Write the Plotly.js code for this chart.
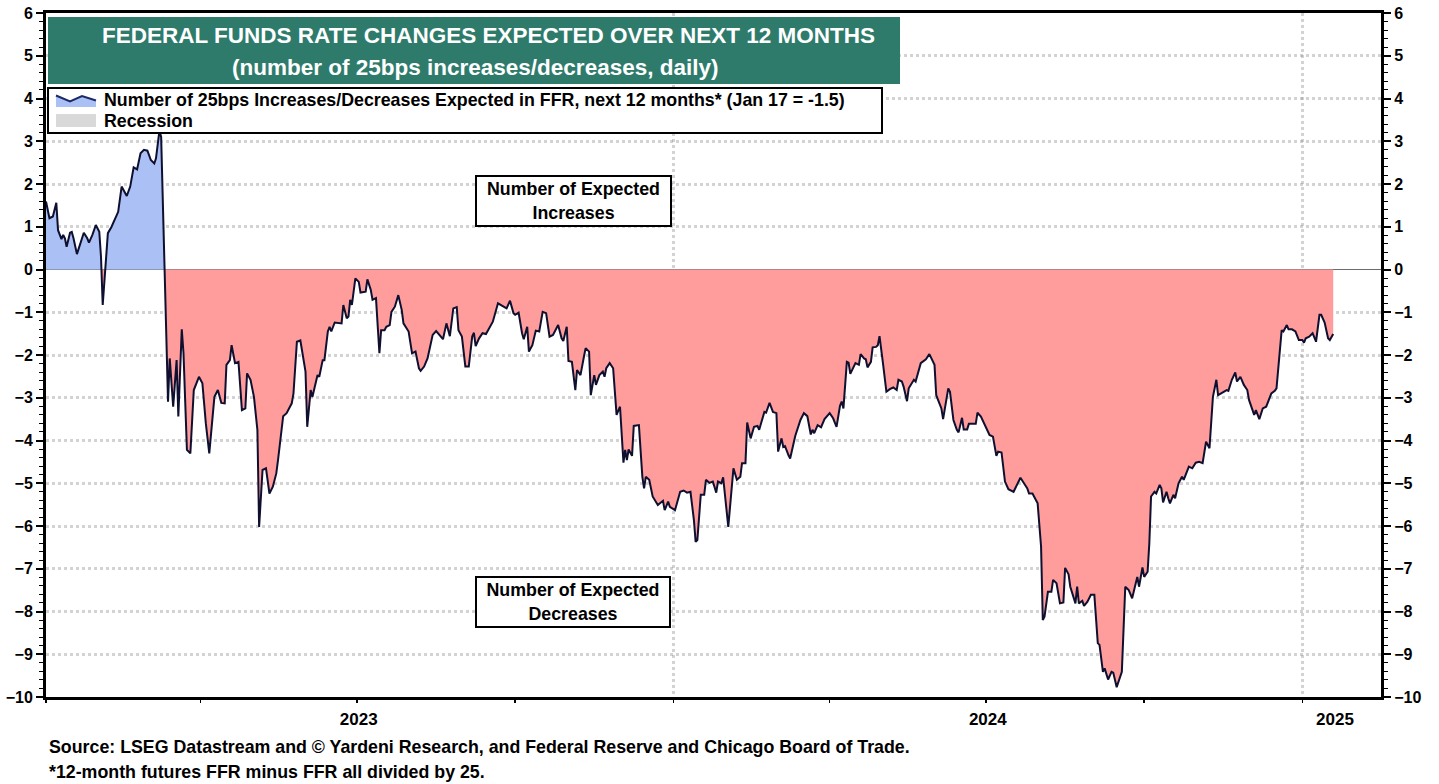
<!DOCTYPE html>
<html>
<head>
<meta charset="utf-8">
<script src="https://cdn.plot.ly/plotly-3.0.1.min.js"></script>
<style>
  html, body { margin: 0; padding: 0; background: #ffffff; }
  #chart { width: 1439px; height: 784px; }
</style>
</head>
<body>
<div id="chart"></div>
<script>
// ---- DATA ----
// day offset from 2023-01-01
const days = [0,2,4,6,7,9,10,11,12,14,15,16,18,20,22,24,25,27,29,31,32,33,36,38,40,42,44,47,49,51,53,55,57,59,61,63,64,66,67,
71,72,74,76,77,79,80,82,84,86,89,91,93,95,98,100,102,104,105,107,108,110,112,114,116,117,119,121,123,124,126,128,130,132,134,135,
138,140,143,144,146,148,150,151,152,154,155,158,159,161,162,164,165,166,168,172,173,175,176,177,178,180,182,183,186,187,189,190,192,
194,195,197,198,200,201,203,205,207,208,211,213,215,217,218,220,221,222,225,227,231,233,235,237,239,240,242,244,246,248,249,250,252,
254,256,260,263,266,268,270,272,273,275,277,278,280,281,283,285,287,289,291,293,295,298,300,301,303,304,306,308,309,311,313,314,316,
317,319,320,322,324,325,326,328,330,332,334,336,337,338,339,341,342,345,347,348,349,351,353,356,359,360,362,363,366,369,371,373,375,
377,378,379,381,383,384,386,388,390,391,393,394,397,400,402,404,405,407,408,410,412,414,415,418,419,421,423,425,426,428,429,430,432,
433,436,439,441,443,445,446,447,449,451,453,456,458,460,462,463,464,466,467,468,471,473,474,476,477,478,480,481,483,484,485,487,489,
491,493,495,496,498,499,501,502,505,506,509,511,512,514,517,518,521,522,525,526,528,530,531,533,534,536,537,541,542,544,546,549,551,
553,554,556,558,560,563,565,567,570,571,572,574,577,579,580,581,583,585,586,588,590,592,593,595,596,598,599,600,601,603,604,606,608,
610,612,613,615,616,618,620,621,623,626,628,630,632,635,636,638,639,641,642,643,645,646,648,649,650,652,653,654,656,657,659,661,662,
664,665,667,669,671,673,675,677,679,681,682,685,687,688,690,692,693,695,697,699,700,703,704,706,708,710,713,715,716,719,720,722,723,
725,727,729,731,732,733,735,737,738,739,741,742,744,746,747,749];
// number of 25bps increases (+) / decreases (-) expected over next 12 months
const values = [1.59,1.2,1.24,1.56,0.92,0.71,0.81,0.73,0.53,0.86,0.88,0.73,0.36,0.61,0.86,0.73,0.63,0.81,1.04,0.88,0.3,-0.83,0.85,0.99,1.16,1.35,1.94,1.72,1.94,2.39,2.34,2.72,2.8,2.78,2.56,2.48,2.6,3.25,3.1,
-3.09,-2.08,-3.21,-2.12,-3.44,-1.4,-1.96,-4.22,-4.3,-2.82,-2.51,-2.66,-3.6,-4.3,-2.98,-2.82,-3.12,-3.13,-2.23,-2.12,-1.77,-2.19,-2.16,-3.29,-3.25,-2.43,-2.58,-2.98,-3.75,-6.02,-4.69,-4.65,-5.24,-5.08,-4.77,-4.46,
-3.43,-3.36,-3.13,-2.9,-1.69,-1.66,-2.16,-2.39,-3.68,-2.82,-2.98,-2.47,-2.51,-2.12,-2.12,-1.45,-1.34,-1.45,-1.24,-1.26,-0.83,-1.14,-1.1,-0.71,-0.83,-0.21,-0.29,-0.54,-0.52,-0.23,-0.48,-0.71,-0.67,
-1.96,-1.42,-1.42,-1.34,-1.3,-0.99,-0.87,-0.6,-0.95,-1.26,-1.45,-1.96,-1.92,-2.31,-2.37,-2.27,-2.16,-2.08,-1.53,-1.44,-1.63,-1.26,-1.56,-0.91,-0.88,-1.42,-1.57,-2.27,-2.27,-1.57,-1.48,-1.79,-1.61,
-1.49,-1.51,-1.22,-0.79,-0.87,-0.91,-0.73,-1.02,-1.06,-1.01,-1.49,-1.63,-1.34,-1.92,-1.77,-1.43,-1.45,-0.99,-1.02,-1.57,-1.53,-1.3,-1.61,-1.67,-1.34,-2.14,-2.16,-2.82,-2.35,-2.47,-2.04,-1.84,-1.92,
-2.94,-2.47,-2.7,-2.47,-2.39,-2.51,-2.31,-2.19,-2.31,-3.4,-3.21,-4.52,-4.22,-4.46,-4.21,-4.36,-3.66,-3.64,-4.85,-5.12,-4.85,-4.92,-5.31,-5.51,-5.41,-5.63,-5.43,-5.55,-5.63,-5.2,-5.17,-5.22,-5.2,
-5.86,-6.37,-6.33,-5.27,-5.27,-4.92,-4.99,-4.96,-5.22,-4.96,-5.0,-4.86,-6.02,-4.65,-4.92,-4.85,-4.53,-4.53,-3.58,-3.95,-3.68,-3.66,-3.75,-3.33,-3.35,-3.12,-3.33,-3.36,-4.26,-3.95,-4.15,-4.13,-4.34,
-4.42,-3.89,-3.52,-3.36,-3.43,-3.86,-3.75,-3.83,-3.64,-3.69,-3.5,-3.36,-3.48,-3.68,-3.19,-3.09,-3.25,-2.16,-2.18,-2.44,-2.19,-2.23,-1.98,-2.08,-2.1,-2.29,-2.16,-1.82,-1.81,-1.77,-1.56,-2.19,-2.86,
-2.8,-2.76,-2.82,-2.58,-2.62,-2.74,-3.08,-2.78,-2.58,-2.62,-2.19,-2.13,-2.1,-1.98,-2.23,-2.94,-3.25,-3.5,-2.78,-2.86,-3.52,-3.75,-3.81,-3.47,-3.74,-3.74,-3.61,-3.61,-3.35,-3.44,-3.6,-3.87,-3.91,
-4.36,-4.26,-4.28,-4.96,-5.14,-5.2,-5.04,-4.87,-5.06,-5.12,-5.24,-5.24,-5.47,-6.48,-8.2,-8.12,-7.54,-7.54,-7.26,-7.34,-7.81,-7.79,-6.98,-7.13,-7.42,-7.65,-7.81,-7.42,-7.81,-7.75,-7.87,-7.77,-7.61,
-7.61,-8.74,-8.78,-9.41,-9.33,-9.59,-9.41,-9.43,-9.77,-9.41,-7.42,-7.5,-7.69,-7.19,-7.42,-6.97,-7.19,-7.07,-6.4,-5.31,-5.2,-5.24,-5.04,-5.12,-5.45,-5.2,-5.35,-5.47,-5.27,-5.35,-5.0,-4.85,-4.92,
-4.73,-4.61,-4.65,-4.52,-4.5,-4.53,-4.03,-4.18,-2.98,-2.58,-2.94,-2.86,-2.82,-2.84,-2.58,-2.41,-2.62,-2.51,-2.7,-2.82,-3.05,-3.4,-3.29,-3.5,-3.25,-3.21,-2.9,-2.84,-2.78,-1.42,-1.45,-1.3,-1.4,
-1.4,-1.45,-1.65,-1.65,-1.71,-1.61,-1.57,-1.49,-1.59,-1.69,-1.06,-1.06,-1.24,-1.61,-1.65,-1.51];

const yearTicks = ['2023-01-01','2024-01-01','2025-01-01'];
const quarterTicks = ['2023-04-01','2023-07-01','2023-10-01','2024-04-01','2024-07-01','2024-10-01'];
const yearLabelPos = ['2023-07-02','2024-07-02','2025-01-20'];
const yearLabels = ['2023','2024','2025'];
const seriesName = 'Number of 25bps Increases/Decreases Expected in FFR, next 12 months* (Jan 17 = -1.5)';
const recessionName = 'Recession';

// ---- build ----
const DAY = 86400000;
const T0 = Date.UTC(2023, 0, 1);
const toMs = d => T0 + d * DAY;
const xs = days.map(toMs);

// split into positive / negative areas (add zero crossings so fills meet at 0)
const fx = [], fp = [], fn = [];
for (let i = 0; i < days.length; i++) {
  const v = values[i];
  fx.push(xs[i]); fp.push(Math.max(v, 0)); fn.push(Math.min(v, 0));
  if (i < days.length - 1) {
    const v2 = values[i + 1];
    if ((v > 0 && v2 < 0) || (v < 0 && v2 > 0)) {
      const t = v / (v - v2);
      const xc = xs[i] + t * (xs[i + 1] - xs[i]);
      fx.push(xc); fp.push(0); fn.push(0);
    }
  }
}

const W = 1439, H = 784, ML = 46, MR = 58, MT = 13, MB = 87;
const PW = W - ML - MR, PH = H - MT - MB;
const PX = px => (px - ML) / PW;          // page px -> paper x
const PY = py => (H - MB - py) / PH;      // page px -> paper y

const xRange = [toMs(0), toMs(776.8)];
const FONT = 'Arial, "Liberation Sans", sans-serif';
const BLUE = '#abc1f6';
const RED = '#ff9c9c';
const LINE = '#0f1030';
const TXT = 17.8;

const traces = [
  { x: fx, y: fp, type: 'scatter', mode: 'lines', fill: 'tozeroy', fillcolor: BLUE,
    line: { width: 0, color: BLUE }, showlegend: false, hoverinfo: 'skip' },
  { x: fx, y: fn, type: 'scatter', mode: 'lines', fill: 'tozeroy', fillcolor: RED,
    line: { width: 0, color: RED }, showlegend: false, hoverinfo: 'skip' },
  { x: xs, y: values, type: 'scatter', mode: 'lines', line: { color: LINE, width: 2 },
    name: seriesName, showlegend: false },
  // helpers for secondary axes
  { x: [null], y: [null], xaxis: 'x2', yaxis: 'y', type: 'scatter', mode: 'lines', showlegend: false, hoverinfo: 'skip' },
  { x: [null], y: [null], xaxis: 'x', yaxis: 'y2', type: 'scatter', mode: 'lines', showlegend: false, hoverinfo: 'skip' }
];

const gridCol = 'rgba(128,128,128,0.35)';
const tickFont = { family: FONT, size: 16, color: '#000', weight: 'bold' };

const yBase = {
  range: [-10, 6], tickmode: 'linear', tick0: 0, dtick: 1,
  ticks: 'outside', ticklen: 7, tickwidth: 2, tickcolor: '#000',
  minor: { dtick: 0.2, tick0: 0, ticks: 'outside', ticklen: 4, tickwidth: 1, tickcolor: '#000', showgrid: false },
  showline: true, linecolor: '#000', linewidth: 3,
  tickfont: tickFont, fixedrange: true
};

// legend drawn as a framed box (icons + labels)
const legendShapes = [
  { type: 'rect', xref: 'paper', yref: 'paper', x0: PX(48), x1: PX(882), y0: PY(133), y1: PY(88),
    fillcolor: '#ffffff', line: { color: '#000', width: 2 }, layer: 'above' },
  { type: 'path', xref: 'paper', yref: 'paper', layer: 'above',
    path: `M${PX(56)},${PY(95.5)} L${PX(70)},${PY(101.5)} L${PX(82)},${PY(96)} L${PX(96)},${PY(100.5)} L${PX(96)},${PY(107)} L${PX(56)},${PY(107)} Z`,
    fillcolor: BLUE, line: { width: 0 } },
  { type: 'path', xref: 'paper', yref: 'paper', layer: 'above',
    path: `M${PX(56)},${PY(95.5)} L${PX(70)},${PY(101.5)} L${PX(82)},${PY(96)} L${PX(96)},${PY(100.5)}`,
    line: { color: '#1b2a66', width: 2 } },
  { type: 'rect', xref: 'paper', yref: 'paper', x0: PX(56), x1: PX(96), y0: PY(127), y1: PY(114),
    fillcolor: '#d9d9d9', line: { width: 0 }, layer: 'above' }
];

const layout = {
  width: W, height: H,
  margin: { l: ML, r: MR, t: MT, b: MB },
  paper_bgcolor: '#ffffff', plot_bgcolor: '#ffffff',
  font: { family: FONT, color: '#000' },
  showlegend: false,
  // main x axis: year labels only (centred in each year)
  xaxis: {
    type: 'date', range: xRange,
    tickmode: 'array', tickvals: yearLabelPos, ticktext: yearLabels,
    ticks: '', showgrid: false, zeroline: false,
    showline: true, linecolor: '#000', linewidth: 3, mirror: true,
    tickfont: { family: FONT, size: 17, color: '#000', weight: 'bold' },
    ticklabelstandoff: 5, fixedrange: true
  },
  // overlay x axis: year-boundary grid and quarterly tick marks
  xaxis2: {
    type: 'date', range: xRange, overlaying: 'x', anchor: 'y', side: 'bottom',
    tickmode: 'array', tickvals: yearTicks, showticklabels: false,
    ticks: 'outside', ticklen: 5, tickwidth: 1.5, tickcolor: '#000',
    minor: { tickmode: 'array', tickvals: quarterTicks, ticks: 'outside', ticklen: 5, tickwidth: 1.5, tickcolor: '#000', showgrid: false },
    showgrid: true, gridcolor: gridCol, gridwidth: 3, griddash: 'dot',
    showline: false, zeroline: false, layer: 'above traces', fixedrange: true
  },
  yaxis: Object.assign({}, yBase, {
    side: 'left',
    showgrid: true, gridcolor: gridCol, gridwidth: 3, griddash: 'dot',
    zeroline: true, zerolinecolor: '#6b6b6b', zerolinewidth: 1.5,
    layer: 'above traces'
  }),
  yaxis2: Object.assign({}, yBase, {
    side: 'right', overlaying: 'y', anchor: 'x',
    showgrid: false, zeroline: false
  }),
  shapes: [
    { type: 'rect', xref: 'paper', yref: 'paper', x0: PX(48), x1: PX(900), y0: PY(84), y1: PY(17),
      fillcolor: '#2e7b6c', line: { width: 0 }, layer: 'above' }
  ].concat(legendShapes),
  annotations: [
    { xref: 'paper', yref: 'paper', x: PX(488), y: PY(35), xanchor: 'center', yanchor: 'middle', showarrow: false,
      text: 'FEDERAL FUNDS RATE CHANGES EXPECTED OVER NEXT 12 MONTHS',
      font: { family: FONT, size: 22.5, color: '#ffffff', weight: 'bold' } },
    { xref: 'paper', yref: 'paper', x: PX(475), y: PY(67), xanchor: 'center', yanchor: 'middle', showarrow: false,
      text: '(number of 25bps increases/decreases, daily)',
      font: { family: FONT, size: 22.5, color: '#ffffff', weight: 'bold' } },
    // legend labels
    { xref: 'paper', yref: 'paper', x: PX(102), y: PY(100), xanchor: 'left', yanchor: 'middle', showarrow: false,
      text: seriesName, font: { family: FONT, size: TXT, color: '#000', weight: 'bold' } },
    { xref: 'paper', yref: 'paper', x: PX(102), y: PY(120.5), xanchor: 'left', yanchor: 'middle', showarrow: false,
      text: recessionName, font: { family: FONT, size: TXT, color: '#000', weight: 'bold' } },
    // boxes
    { xref: 'paper', yref: 'paper', x: PX(573.5), y: PY(201), xanchor: 'center', yanchor: 'middle', showarrow: false,
      text: 'Number of Expected<br>Increases', align: 'center',
      width: 191, height: 46, bgcolor: '#ffffff', bordercolor: '#000', borderwidth: 2, borderpad: 1,
      font: { family: FONT, size: TXT, color: '#000', weight: 'bold' } },
    { xref: 'paper', yref: 'paper', x: PX(573), y: PY(601.5), xanchor: 'center', yanchor: 'middle', showarrow: false,
      text: 'Number of Expected<br>Decreases', align: 'center',
      width: 190, height: 46, bgcolor: '#ffffff', bordercolor: '#000', borderwidth: 2, borderpad: 1,
      font: { family: FONT, size: TXT, color: '#000', weight: 'bold' } },
    // footer
    { xref: 'paper', yref: 'paper', x: PX(47), y: PY(747), xanchor: 'left', yanchor: 'middle', showarrow: false,
      text: 'Source: LSEG Datastream and © Yardeni Research, and Federal Reserve and Chicago Board of Trade.',
      font: { family: FONT, size: TXT, color: '#000', weight: 'bold' } },
    { xref: 'paper', yref: 'paper', x: PX(47), y: PY(772), xanchor: 'left', yanchor: 'middle', showarrow: false,
      text: '*12-month futures FFR minus FFR all divided by 25.',
      font: { family: FONT, size: TXT, color: '#000', weight: 'bold' } }
  ]
};

Plotly.newPlot('chart', traces, layout, { displayModeBar: false, staticPlot: true });
</script>
</body>
</html>
